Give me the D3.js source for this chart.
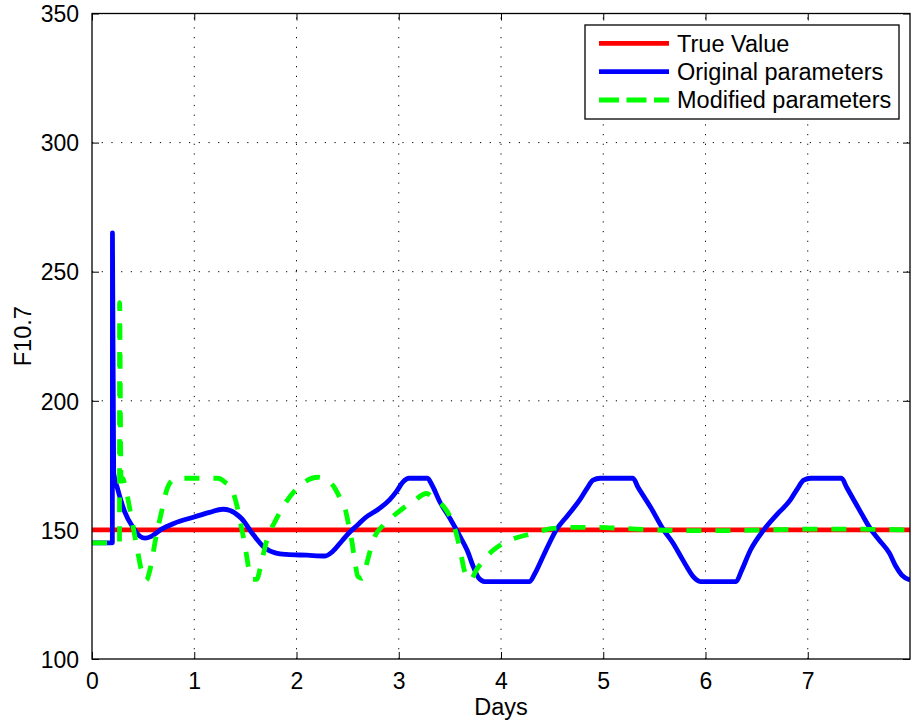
<!DOCTYPE html>
<html>
<head>
<meta charset="utf-8">
<script src="https://cdn.jsdelivr.net/npm/d3@7"></script>
<style>
  html, body { margin: 0; padding: 0; background: #fff; }
  svg { display: block; }
  text { font-family: "Liberation Sans", Arial, Helvetica, sans-serif; fill: #000; }
</style>
</head>
<body>
<svg id="chart" width="916" height="725"></svg>
<script>
// ---- data ----
const xTicks = [0, 1, 2, 3, 4, 5, 6, 7];
const yTicks = [100, 150, 200, 250, 300, 350];
const seriesNames = ["True Value", "Original parameters", "Modified parameters"];

const trueDays = [0, 8];
const trueValues = [150, 150];

const origDays = [0, 0.199, 0.2, 0.212, 0.25, 0.32, 0.4, 0.47, 0.52, 0.58, 0.68, 0.8, 1.0, 1.15, 1.28, 1.35, 1.46, 1.58, 1.69, 1.8, 1.9, 2.1, 2.28, 2.35, 2.45, 2.51, 2.6, 2.67, 2.8, 2.91, 2.98, 3.04, 3.1, 3.28, 3.33, 3.4, 3.5, 3.6, 3.67, 3.73, 3.78, 3.84, 4.28, 4.33, 4.41, 4.54, 4.65, 4.77, 4.84, 4.9, 4.97, 5.29, 5.34, 5.46, 5.59, 5.68, 5.75, 5.82, 5.88, 5.95, 6.3, 6.35, 6.44, 6.57, 6.7, 6.83, 6.9, 6.96, 7.03, 7.33, 7.38, 7.45, 7.53, 7.61, 7.7, 7.8, 7.86, 7.92, 8.0];
const origValues = [145, 145, 265, 172, 166, 157, 151, 147.5, 146.8, 147.5, 150.3, 152.5, 155, 156.8, 158, 157.5, 154.5, 148, 143, 141, 140.5, 140.2, 139.9, 141.5, 146, 148.7, 152, 154.6, 158, 161.6, 165, 168.5, 170, 170, 167, 161, 154.5, 147.4, 142, 135.7, 131.5, 130, 130, 133, 139.6, 150, 155.5, 161.6, 166, 169.3, 170, 170, 166.5, 159, 150, 145, 140.3, 135.5, 131.9, 130, 130, 134, 142.2, 150, 156, 161.6, 166, 169.3, 170, 170, 166.5, 161.6, 156, 150.6, 146, 140.9, 136, 132.5, 130.6];

const modDays = [0, 0.269, 0.27, 0.284, 0.3, 0.33, 0.38, 0.44, 0.5, 0.53, 0.57, 0.62, 0.68, 0.73, 0.78, 0.84, 1.23, 1.3, 1.37, 1.42, 1.46, 1.5, 1.53, 1.57, 1.61, 1.66, 1.71, 1.8, 1.89, 1.98, 2.08, 2.21, 2.3, 2.37, 2.43, 2.47, 2.51, 2.54, 2.57, 2.6, 2.64, 2.7, 2.75, 2.85, 2.95, 3.04, 3.15, 3.27, 3.35, 3.44, 3.49, 3.53, 3.57, 3.6, 3.65, 3.7, 3.76, 3.83, 3.92, 4.02, 4.12, 4.25, 4.38, 4.51, 4.7, 4.9, 5.18, 5.5, 5.8, 6.2, 6.6, 7.0, 7.4, 8.0];
const modValues = [145, 145, 238, 170, 170, 166, 156, 143, 132, 130.5, 135, 146, 157, 165.4, 169, 170, 170, 168.5, 165.4, 159, 151.2, 143, 135.7, 130.8, 130.8, 138, 146, 154, 160.3, 165, 168.6, 170.4, 169.3, 166.5, 162, 159, 152, 146, 138, 132, 131.2, 139, 146, 151.9, 155.5, 158.3, 161.3, 164.1, 162, 159, 156, 152.5, 147.5, 142.2, 133.2, 130.6, 134.5, 138.3, 142, 144.8, 146.6, 148, 149.5, 150.6, 151, 151, 150.6, 150, 149.7, 149.7, 150, 150.3, 150.3, 150];

// ---- layout ----
const svg = d3.select("#chart");
const L = 92, R = 910, T = 13.5, B = 659;
const x = d3.scaleLinear().domain([0, 8]).range([L, R]);
const y = d3.scaleLinear().domain([100, 350]).range([B, T]);
const FONT = 23.5;
const TICKFONT = 23;

// grid
const grid = svg.append("g").attr("stroke", "#000").attr("stroke-width", 1)
  .attr("stroke-dasharray", "1.2,8.5").attr("fill", "none");
xTicks.filter(d => d > 0).forEach(d => {
  grid.append("line").attr("x1", x(d)).attr("x2", x(d)).attr("y1", B).attr("y2", T);
});
yTicks.filter(d => d > 100 && d < 350).forEach(d => {
  grid.append("line").attr("x1", L).attr("x2", R).attr("y1", y(d)).attr("y2", y(d));
});

// axes with inward ticks on all four sides
const tl = 7;
const axB = svg.append("g").attr("transform", `translate(0,${B})`)
  .call(d3.axisBottom(x).tickValues(xTicks).tickSize(-tl).tickPadding(tl + 7).tickFormat(d3.format("d")));
const axT = svg.append("g").attr("transform", `translate(0,${T})`)
  .call(d3.axisTop(x).tickValues(xTicks).tickSize(-tl).tickFormat(""));
const axL = svg.append("g").attr("transform", `translate(${L},0)`)
  .call(d3.axisLeft(y).tickValues(yTicks).tickSize(-tl).tickPadding(tl + 6).tickFormat(d3.format("d")));
const axR = svg.append("g").attr("transform", `translate(${R},0)`)
  .call(d3.axisRight(y).tickValues(yTicks).tickSize(-tl).tickFormat(""));
[axB, axT, axL, axR].forEach(a => {
  a.select(".domain").remove();
  a.selectAll("line").attr("stroke", "#000").attr("stroke-width", 1);
  a.selectAll("text").attr("font-size", TICKFONT).attr("font-family", "Liberation Sans, Arial, sans-serif").attr("fill", "#000");
});
axL.selectAll("text").attr("dy", "0.36em");

// series
const line = d3.line().x(d => x(d[0])).y(d => y(d[1])).curve(d3.curveMonotoneX);
svg.append("clipPath").attr("id", "clip").append("rect")
  .attr("x", L).attr("y", T).attr("width", R - L).attr("height", B - T);
const plot = svg.append("g").attr("clip-path", "url(#clip)");
const series = [
  { days: trueDays, vals: trueValues, color: "#ff0000", dash: null },
  { days: origDays, vals: origValues, color: "#0000ff", dash: null },
  { days: modDays, vals: modValues, color: "#00ff00", dash: "15,14" }
];
series.forEach(s => {
  plot.append("path")
    .datum(s.days.map((d, i) => [d, s.vals[i]]))
    .attr("d", line)
    .attr("fill", "none")
    .attr("stroke", s.color)
    .attr("stroke-width", 4.8)
    .attr("stroke-linejoin", "round")
    .attr("stroke-dasharray", s.dash);
});

// frame
svg.append("rect").attr("x", L).attr("y", T).attr("width", R - L).attr("height", B - T)
  .attr("fill", "none").attr("stroke", "#000").attr("stroke-width", 1.3);

// axis labels
svg.append("text").attr("x", (L + R) / 2).attr("y", 715).attr("text-anchor", "middle")
  .attr("font-size", FONT).text("Days");
svg.append("text").attr("transform", `translate(31,${(T + B) / 2}) rotate(-90)`)
  .attr("text-anchor", "middle").attr("font-size", FONT).text("F10.7");

// legend
const lg = svg.append("g");
lg.append("rect").attr("x", 585).attr("y", 25).attr("width", 314).attr("height", 94)
  .attr("fill", "#fff").attr("stroke", "#000").attr("stroke-width", 1.3);
const legY = [43.3, 71.7, 100];
series.forEach((s, i) => {
  lg.append("line").attr("x1", 599).attr("x2", 669).attr("y1", legY[i]).attr("y2", legY[i])
    .attr("stroke", s.color).attr("stroke-width", 4.8).attr("stroke-dasharray", s.dash ? "20,7.5" : null);
  lg.append("text").attr("x", 677).attr("y", legY[i]).attr("dy", "0.36em")
    .attr("font-size", FONT).text(seriesNames[i]);
});
</script>
</body>
</html>
